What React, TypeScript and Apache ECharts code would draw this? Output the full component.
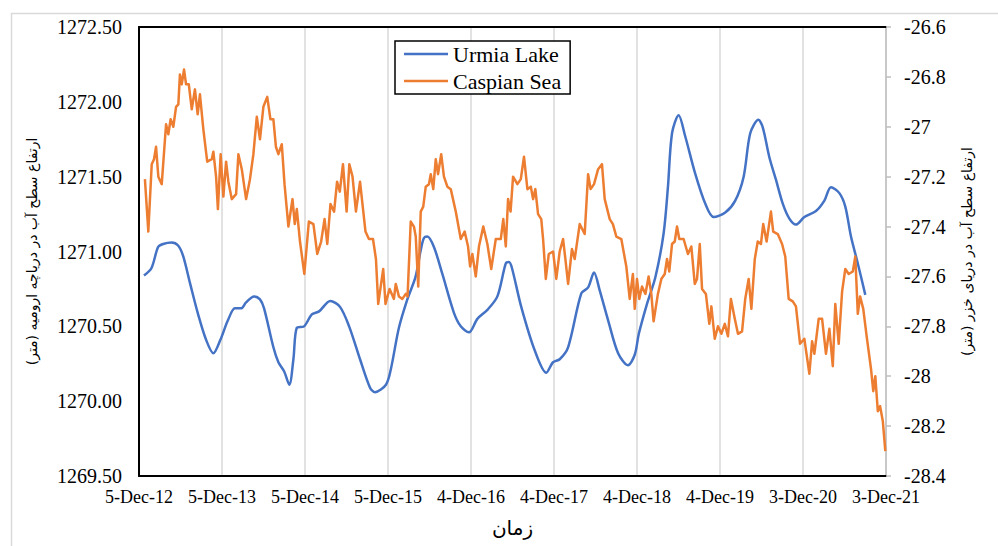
import React, { useEffect, useRef } from "react";
import * as echarts from "echarts";

// x positions are days after 5-Dec-2012
const tickLabels = ["5-Dec-12", "5-Dec-13", "5-Dec-14", "5-Dec-15", "4-Dec-16", "4-Dec-17", "4-Dec-18", "4-Dec-19", "3-Dec-20", "3-Dec-21"];

const urmiaDays = [22, 55, 84, 106, 143, 172, 194, 224, 260, 295, 327, 358, 391, 422, 449, 471, 506, 532, 550, 591, 613, 638, 661, 679, 694, 726, 760, 792, 841, 884, 924, 972, 1016, 1038, 1086, 1107, 1143, 1180, 1216, 1239, 1253, 1268, 1297, 1334, 1385, 1415, 1451, 1488, 1532, 1576, 1613, 1627, 1640, 1681, 1740, 1791, 1821, 1850, 1887, 1945, 1975, 2001, 2026, 2063, 2107, 2150, 2180, 2198, 2234, 2271, 2307, 2326, 2344, 2373, 2402, 2446, 2490, 2527, 2578, 2622, 2659, 2688, 2724, 2743, 2772, 2801, 2831, 2860, 2889, 2926, 2977, 3014, 3043, 3080, 3106, 3131, 3161, 3194];
const urmiaLevels = [1270.84, 1270.89, 1271.03, 1271.05, 1271.06, 1271.04, 1270.97, 1270.79, 1270.58, 1270.41, 1270.32, 1270.41, 1270.54, 1270.62, 1270.62, 1270.66, 1270.70, 1270.68, 1270.62, 1270.36, 1270.26, 1270.20, 1270.11, 1270.28, 1270.49, 1270.50, 1270.58, 1270.60, 1270.67, 1270.63, 1270.50, 1270.28, 1270.09, 1270.06, 1270.11, 1270.21, 1270.49, 1270.68, 1270.83, 1271.01, 1271.09, 1271.10, 1271.03, 1270.85, 1270.59, 1270.50, 1270.46, 1270.55, 1270.61, 1270.70, 1270.92, 1270.93, 1270.89, 1270.63, 1270.34, 1270.19, 1270.26, 1270.28, 1270.36, 1270.72, 1270.76, 1270.86, 1270.74, 1270.54, 1270.32, 1270.24, 1270.31, 1270.45, 1270.65, 1270.83, 1271.12, 1271.43, 1271.79, 1271.91, 1271.77, 1271.52, 1271.32, 1271.23, 1271.26, 1271.34, 1271.50, 1271.79, 1271.88, 1271.83, 1271.63, 1271.48, 1271.32, 1271.22, 1271.18, 1271.23, 1271.27, 1271.34, 1271.43, 1271.39, 1271.30, 1271.10, 1270.92, 1270.71];

const caspianDays = [26, 41, 56, 66, 75, 85, 100, 119, 129, 139, 151, 163, 173, 180, 188, 198, 207, 219, 232, 246, 258, 268, 283, 300, 320, 327, 339, 347, 359, 371, 383, 393, 408, 427, 437, 452, 471, 488, 503, 518, 532, 547, 564, 578, 591, 602, 613, 628, 640, 657, 675, 685, 694, 708, 727, 747, 767, 784, 801, 816, 828, 842, 858, 871, 883, 897, 913, 925, 939, 954, 972, 996, 1011, 1029, 1042, 1052, 1074, 1084, 1102, 1121, 1129, 1143, 1158, 1173, 1181, 1195, 1209, 1217, 1228, 1239, 1250, 1261, 1275, 1283, 1294, 1305, 1315, 1329, 1341, 1356, 1371, 1393, 1415, 1432, 1447, 1456, 1466, 1481, 1495, 1514, 1532, 1549, 1569, 1591, 1602, 1613, 1623, 1634, 1645, 1664, 1679, 1693, 1708, 1723, 1733, 1743, 1755, 1769, 1777, 1789, 1802, 1821, 1835, 1850, 1865, 1875, 1887, 1904, 1916, 1938, 1960, 1975, 1986, 2001, 2019, 2036, 2048, 2070, 2084, 2099, 2121, 2143, 2158, 2172, 2180, 2190, 2200, 2212, 2227, 2241, 2253, 2263, 2282, 2297, 2312, 2322, 2332, 2344, 2356, 2366, 2376, 2395, 2414, 2429, 2444, 2454, 2466, 2476, 2493, 2508, 2517, 2532, 2546, 2561, 2576, 2590, 2603, 2620, 2634, 2652, 2666, 2681, 2693, 2708, 2721, 2735, 2745, 2760, 2779, 2789, 2809, 2828, 2842, 2857, 2875, 2889, 2907, 2926, 2948, 2960, 2970, 2989, 3004, 3021, 3036, 3051, 3062, 3077, 3092, 3106, 3121, 3139, 3150, 3161, 3171, 3185, 3200, 3219, 3229, 3238, 3249, 3259, 3271, 3282];
const caspianLevels = [-27.21, -27.42, -27.15, -27.13, -27.08, -27.20, -27.23, -26.99, -27.03, -26.97, -27.00, -26.92, -26.91, -26.79, -26.83, -26.77, -26.83, -26.83, -26.93, -26.85, -26.95, -26.87, -27.01, -27.14, -27.13, -27.10, -27.20, -27.33, -27.11, -27.28, -27.14, -27.22, -27.29, -27.27, -27.11, -27.17, -27.29, -27.21, -27.11, -26.96, -27.05, -26.92, -26.88, -26.97, -26.97, -27.08, -27.11, -27.07, -27.23, -27.40, -27.29, -27.39, -27.33, -27.46, -27.59, -27.38, -27.39, -27.51, -27.46, -27.37, -27.47, -27.31, -27.34, -27.22, -27.26, -27.15, -27.34, -27.15, -27.20, -27.34, -27.22, -27.42, -27.45, -27.45, -27.53, -27.71, -27.57, -27.71, -27.65, -27.69, -27.63, -27.68, -27.69, -27.67, -27.68, -27.38, -27.40, -27.44, -27.64, -27.34, -27.32, -27.24, -27.23, -27.19, -27.25, -27.13, -27.19, -27.11, -27.20, -27.24, -27.25, -27.34, -27.45, -27.42, -27.48, -27.56, -27.51, -27.60, -27.48, -27.40, -27.47, -27.57, -27.45, -27.45, -27.37, -27.48, -27.29, -27.34, -27.20, -27.23, -27.21, -27.12, -27.25, -27.24, -27.29, -27.25, -27.35, -27.37, -27.45, -27.61, -27.51, -27.50, -27.61, -27.50, -27.45, -27.53, -27.63, -27.49, -27.53, -27.39, -27.43, -27.19, -27.25, -27.23, -27.17, -27.15, -27.29, -27.37, -27.39, -27.44, -27.45, -27.56, -27.69, -27.59, -27.73, -27.61, -27.69, -27.64, -27.67, -27.60, -27.67, -27.78, -27.67, -27.61, -27.59, -27.53, -27.58, -27.47, -27.46, -27.40, -27.45, -27.45, -27.51, -27.48, -27.63, -27.61, -27.47, -27.65, -27.67, -27.79, -27.72, -27.85, -27.80, -27.83, -27.79, -27.84, -27.69, -27.77, -27.83, -27.82, -27.69, -27.61, -27.73, -27.53, -27.46, -27.47, -27.39, -27.46, -27.34, -27.42, -27.43, -27.47, -27.52, -27.69, -27.70, -27.72, -27.87, -27.85, -27.99, -27.86, -27.91, -27.77, -27.77, -27.91, -27.81, -27.96, -27.71, -27.87, -27.66, -27.57, -27.59, -27.58, -27.52, -27.75, -27.68, -27.73, -27.84, -27.97, -28.06, -28.00, -28.14, -28.12, -28.18, -28.30];

const seriesNames = ["Urmia Lake", "Caspian Sea"];
const xAxisName = "زمان";
const leftAxisName = "ارتفاع سطح آب در دریاچه ارومیه (متر)";
const rightAxisName = "ارتفاع سطح آب در دریای خزر (متر)";

const SERIF = "Liberation Serif";
const ARABIC = "DejaVu Sans";

export default function App() {
  const ref = useRef<HTMLDivElement>(null);
  useEffect(() => {
    if (!ref.current) return;
    const chart = echarts.init(ref.current, undefined, { renderer: "svg" });
    const option: any = {
      animation: false,
      backgroundColor: "#ffffff",
      textStyle: { fontFamily: SERIF },
      graphic: [
        {
          type: "rect",
          left: 9,
          top: 11,
          shape: { width: 1000, height: 600 },
          style: { fill: "none", stroke: "#d9d9d9", lineWidth: 1.5 },
          silent: true,
          z: -10,
        },
      ],
      grid: { left: 139, right: 112, top: 27, bottom: 70, containLabel: false },
      legend: {
        left: 395,
        top: 41,
        orient: "vertical",
        data: seriesNames,
        itemWidth: 44,
        itemHeight: 14,
        itemGap: 5,
        padding: [2, 9, 2, 9],
        borderColor: "#000",
        borderWidth: 1.5,
        backgroundColor: "#fff",
        textStyle: { fontFamily: SERIF, fontSize: 22, color: "#000", lineHeight: 22 },
        icon: "path://M0,6 L44,6 L44,8.5 L0,8.5 Z",
      },
      xAxis: [
        {
          type: "value",
          min: 0,
          max: 3285,
          interval: 365,
          position: "bottom",
          axisLine: { show: true, onZero: false, lineStyle: { color: "#000", width: 2 } },
          axisTick: { show: false },
          axisLabel: {
            formatter: (v: number) => tickLabels[Math.round(v / 365)] ?? "",
            fontFamily: SERIF,
            fontSize: 18,
            color: "#000",
            margin: 12,
            showMinLabel: true,
            showMaxLabel: true,
          },
          splitLine: { show: true, lineStyle: { color: "#d9d9d9", width: 1.5 } },
          name: xAxisName,
          nameLocation: "middle",
          nameGap: 42,
          nameTextStyle: { fontFamily: ARABIC, fontSize: 20, color: "#000" },
        },
        {
          type: "value",
          min: 0,
          max: 3285,
          interval: 365,
          position: "top",
          axisLine: { show: true, onZero: false, lineStyle: { color: "#000", width: 2 } },
          axisTick: { show: false },
          axisLabel: { show: false },
          splitLine: { show: false },
        },
      ],
      yAxis: [
        {
          type: "value",
          min: 1269.5,
          max: 1272.5,
          interval: 0.5,
          position: "left",
          axisLine: { show: true, onZero: false, lineStyle: { color: "#000", width: 2 } },
          axisTick: { show: false },
          axisLabel: {
            formatter: (v: number) => v.toFixed(2),
            fontFamily: SERIF,
            fontSize: 20,
            color: "#000",
            margin: 17,
          },
          splitLine: { show: false },
          name: leftAxisName,
          nameLocation: "middle",
          nameRotate: 90,
          nameGap: 100,
          nameTextStyle: { fontFamily: ARABIC, fontSize: 14, color: "#000" },
        },
        {
          type: "value",
          min: -28.4,
          max: -26.6,
          interval: 0.2,
          position: "right",
          axisLine: { show: true, onZero: false, lineStyle: { color: "#bfbfbf", width: 1.5 } },
          axisTick: { show: true, length: 5, lineStyle: { color: "#bfbfbf", width: 1.5 } },
          axisLabel: {
            formatter: (v: number) => String(Math.round(v * 10) / 10),
            fontFamily: SERIF,
            fontSize: 20,
            color: "#000",
            margin: 18,
          },
          splitLine: { show: false },
          name: rightAxisName,
          nameLocation: "middle",
          nameRotate: 90,
          nameGap: 74,
          nameTextStyle: { fontFamily: ARABIC, fontSize: 14, color: "#000" },
        },
      ],
      series: [
        {
          name: seriesNames[0],
          type: "line",
          xAxisIndex: 0,
          yAxisIndex: 0,
          data: urmiaDays.map((d, i) => [d, urmiaLevels[i]]),
          smooth: 0.3,
          symbol: "none",
          lineStyle: { color: "#4472C4", width: 2.5 },
          itemStyle: { color: "#4472C4" },
        },
        {
          name: seriesNames[1],
          type: "line",
          xAxisIndex: 0,
          yAxisIndex: 1,
          data: caspianDays.map((d, i) => [d, caspianLevels[i]]),
          symbol: "none",
          lineStyle: { color: "#ED7D31", width: 2.5, join: "round" },
          itemStyle: { color: "#ED7D31" },
        },
      ],
    };
    chart.setOption(option);
    return () => chart.dispose();
  }, []);
  return <div ref={ref} style={{ position: "absolute", left: 0, top: 0, width: 998, height: 546 }} />;
}
